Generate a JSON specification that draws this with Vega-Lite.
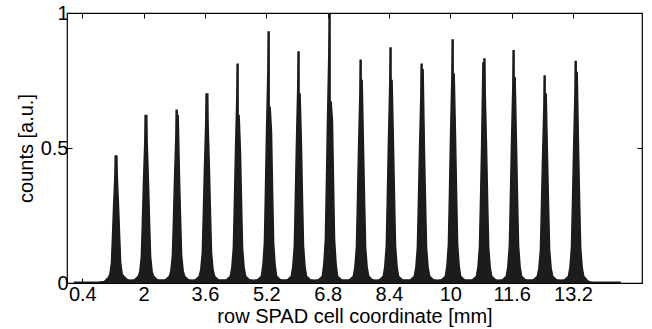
{
  "$schema": "https://vega.github.io/schema/vega-lite/v6.json",
  "autosize": {"type": "none"},
  "padding": {"left": 67, "top": 13, "right": 10, "bottom": 46},
  "width": 575,
  "height": 270,
  "config": {
    "view": {"stroke": "#000", "strokeWidth": 1.2},
    "font": "Liberation Sans",
    "axis": {"grid": false, "domain": false, "tickColor": "#000", "labelColor": "#000", "titleColor": "#000", "labelFont": "Liberation Sans", "titleFont": "Liberation Sans", "titleFontWeight": "normal", "labelFontSize": 20, "titleFontSize": 20, "tickSize": -5, "tickWidth": 1}
  },
  "data": {"values": [
    {"x":0.2,"y":0.003},{"x":0.8,"y":0.003},{"x":0.98,"y":0.006},{"x":1.08,"y":0.02},{"x":1.12,"y":0.033},{"x":1.16,"y":0.075},{"x":1.185,"y":0.165},{"x":1.215,"y":0.282},{"x":1.25,"y":0.40},{"x":1.258,"y":0.47},{"x":1.302,"y":0.47},{"x":1.31,"y":0.40},{"x":1.345,"y":0.282},{"x":1.375,"y":0.165},{"x":1.40,"y":0.075},{"x":1.44,"y":0.033},{"x":1.48,"y":0.025},{"x":1.58,"y":0.012},{"x":1.68,"y":0.010},
    {"x":1.76,"y":0.012},{"x":1.86,"y":0.025},{"x":1.90,"y":0.043},{"x":1.94,"y":0.099},{"x":1.965,"y":0.217},{"x":1.995,"y":0.372},{"x":2.03,"y":0.527},{"x":2.038,"y":0.62},{"x":2.082,"y":0.62},{"x":2.09,"y":0.527},{"x":2.125,"y":0.372},{"x":2.155,"y":0.217},{"x":2.18,"y":0.099},{"x":2.22,"y":0.043},{"x":2.26,"y":0.025},{"x":2.36,"y":0.012},{"x":2.46,"y":0.011},
    {"x":2.57,"y":0.012},{"x":2.67,"y":0.025},{"x":2.71,"y":0.045},{"x":2.75,"y":0.102},{"x":2.775,"y":0.224},{"x":2.805,"y":0.384},{"x":2.84,"y":0.544},{"x":2.848,"y":0.64},{"x":2.873,"y":0.64},{"x":2.874,"y":0.62},{"x":2.90,"y":0.62},{"x":2.935,"y":0.384},{"x":2.965,"y":0.224},{"x":2.99,"y":0.102},{"x":3.03,"y":0.045},{"x":3.07,"y":0.025},{"x":3.17,"y":0.012},{"x":3.26,"y":0.010},
    {"x":3.35,"y":0.012},{"x":3.45,"y":0.025},{"x":3.49,"y":0.049},{"x":3.53,"y":0.112},{"x":3.555,"y":0.245},{"x":3.585,"y":0.42},{"x":3.62,"y":0.595},{"x":3.628,"y":0.70},{"x":3.672,"y":0.70},{"x":3.68,"y":0.595},{"x":3.715,"y":0.42},{"x":3.745,"y":0.245},{"x":3.77,"y":0.112},{"x":3.81,"y":0.049},{"x":3.85,"y":0.025},{"x":3.95,"y":0.012},{"x":4.05,"y":0.011},
    {"x":4.16,"y":0.012},{"x":4.26,"y":0.025},{"x":4.30,"y":0.057},{"x":4.34,"y":0.13},{"x":4.365,"y":0.284},{"x":4.395,"y":0.486},{"x":4.43,"y":0.689},{"x":4.438,"y":0.81},{"x":4.463,"y":0.81},{"x":4.464,"y":0.62},{"x":4.49,"y":0.62},{"x":4.525,"y":0.486},{"x":4.555,"y":0.284},{"x":4.58,"y":0.13},{"x":4.62,"y":0.057},{"x":4.66,"y":0.025},{"x":4.76,"y":0.012},{"x":4.86,"y":0.010},
    {"x":4.97,"y":0.012},{"x":5.07,"y":0.025},{"x":5.11,"y":0.065},{"x":5.15,"y":0.149},{"x":5.175,"y":0.326},{"x":5.205,"y":0.558},{"x":5.24,"y":0.79},{"x":5.248,"y":0.93},{"x":5.273,"y":0.93},{"x":5.274,"y":0.65},{"x":5.30,"y":0.65},{"x":5.335,"y":0.558},{"x":5.365,"y":0.326},{"x":5.39,"y":0.149},{"x":5.43,"y":0.065},{"x":5.47,"y":0.025},{"x":5.57,"y":0.012},{"x":5.66,"y":0.011},
    {"x":5.75,"y":0.012},{"x":5.85,"y":0.025},{"x":5.89,"y":0.06},{"x":5.93,"y":0.137},{"x":5.955,"y":0.30},{"x":5.985,"y":0.514},{"x":6.02,"y":0.728},{"x":6.028,"y":0.856},{"x":6.053,"y":0.856},{"x":6.054,"y":0.70},{"x":6.08,"y":0.70},{"x":6.115,"y":0.514},{"x":6.145,"y":0.30},{"x":6.17,"y":0.137},{"x":6.21,"y":0.06},{"x":6.25,"y":0.025},{"x":6.35,"y":0.012},{"x":6.45,"y":0.010},
    {"x":6.56,"y":0.012},{"x":6.66,"y":0.025},{"x":6.70,"y":0.07},{"x":6.74,"y":0.16},{"x":6.765,"y":0.35},{"x":6.795,"y":0.60},{"x":6.83,"y":0.85},{"x":6.838,"y":1.0},{"x":6.863,"y":1.0},{"x":6.864,"y":0.67},{"x":6.89,"y":0.67},{"x":6.925,"y":0.60},{"x":6.955,"y":0.35},{"x":6.98,"y":0.16},{"x":7.02,"y":0.07},{"x":7.06,"y":0.025},{"x":7.16,"y":0.012},{"x":7.26,"y":0.011},
    {"x":7.37,"y":0.012},{"x":7.47,"y":0.025},{"x":7.51,"y":0.058},{"x":7.55,"y":0.132},{"x":7.575,"y":0.289},{"x":7.605,"y":0.495},{"x":7.64,"y":0.701},{"x":7.648,"y":0.825},{"x":7.673,"y":0.825},{"x":7.674,"y":0.75},{"x":7.70,"y":0.75},{"x":7.735,"y":0.495},{"x":7.765,"y":0.289},{"x":7.79,"y":0.132},{"x":7.83,"y":0.058},{"x":7.87,"y":0.025},{"x":7.97,"y":0.012},{"x":8.06,"y":0.010},
    {"x":8.15,"y":0.012},{"x":8.25,"y":0.025},{"x":8.29,"y":0.061},{"x":8.33,"y":0.139},{"x":8.355,"y":0.305},{"x":8.385,"y":0.522},{"x":8.42,"y":0.74},{"x":8.428,"y":0.87},{"x":8.453,"y":0.87},{"x":8.454,"y":0.75},{"x":8.48,"y":0.75},{"x":8.515,"y":0.522},{"x":8.545,"y":0.305},{"x":8.57,"y":0.139},{"x":8.61,"y":0.061},{"x":8.65,"y":0.025},{"x":8.75,"y":0.012},{"x":8.85,"y":0.011},
    {"x":8.96,"y":0.012},{"x":9.06,"y":0.025},{"x":9.10,"y":0.057},{"x":9.14,"y":0.13},{"x":9.165,"y":0.284},{"x":9.195,"y":0.486},{"x":9.23,"y":0.689},{"x":9.238,"y":0.81},{"x":9.263,"y":0.81},{"x":9.264,"y":0.79},{"x":9.29,"y":0.79},{"x":9.325,"y":0.486},{"x":9.355,"y":0.284},{"x":9.38,"y":0.13},{"x":9.42,"y":0.057},{"x":9.46,"y":0.025},{"x":9.56,"y":0.012},{"x":9.66,"y":0.010},
    {"x":9.77,"y":0.012},{"x":9.87,"y":0.025},{"x":9.91,"y":0.063},{"x":9.95,"y":0.144},{"x":9.975,"y":0.315},{"x":10.005,"y":0.54},{"x":10.04,"y":0.765},{"x":10.048,"y":0.90},{"x":10.073,"y":0.90},{"x":10.074,"y":0.774},{"x":10.10,"y":0.774},{"x":10.135,"y":0.54},{"x":10.165,"y":0.315},{"x":10.19,"y":0.144},{"x":10.23,"y":0.063},{"x":10.27,"y":0.025},{"x":10.37,"y":0.012},{"x":10.47,"y":0.011},
    {"x":10.58,"y":0.012},{"x":10.68,"y":0.025},{"x":10.72,"y":0.058},{"x":10.76,"y":0.133},{"x":10.785,"y":0.29},{"x":10.815,"y":0.498},{"x":10.85,"y":0.815},{"x":10.876,"y":0.815},{"x":10.877,"y":0.83},{"x":10.902,"y":0.83},{"x":10.91,"y":0.705},{"x":10.945,"y":0.498},{"x":10.975,"y":0.29},{"x":11.00,"y":0.133},{"x":11.04,"y":0.058},{"x":11.08,"y":0.025},{"x":11.18,"y":0.012},{"x":11.27,"y":0.010},
    {"x":11.36,"y":0.012},{"x":11.46,"y":0.025},{"x":11.50,"y":0.06},{"x":11.54,"y":0.138},{"x":11.565,"y":0.301},{"x":11.595,"y":0.516},{"x":11.63,"y":0.731},{"x":11.638,"y":0.86},{"x":11.663,"y":0.86},{"x":11.664,"y":0.76},{"x":11.69,"y":0.76},{"x":11.725,"y":0.516},{"x":11.755,"y":0.301},{"x":11.78,"y":0.138},{"x":11.82,"y":0.06},{"x":11.86,"y":0.025},{"x":11.96,"y":0.012},{"x":12.07,"y":0.011},
    {"x":12.17,"y":0.012},{"x":12.27,"y":0.025},{"x":12.31,"y":0.054},{"x":12.35,"y":0.123},{"x":12.375,"y":0.268},{"x":12.405,"y":0.46},{"x":12.44,"y":0.652},{"x":12.448,"y":0.767},{"x":12.473,"y":0.767},{"x":12.474,"y":0.70},{"x":12.50,"y":0.70},{"x":12.535,"y":0.46},{"x":12.565,"y":0.268},{"x":12.59,"y":0.123},{"x":12.63,"y":0.054},{"x":12.67,"y":0.025},{"x":12.77,"y":0.012},{"x":12.88,"y":0.010},
    {"x":12.98,"y":0.012},{"x":13.08,"y":0.025},{"x":13.12,"y":0.057},{"x":13.16,"y":0.131},{"x":13.185,"y":0.287},{"x":13.215,"y":0.492},{"x":13.25,"y":0.697},{"x":13.258,"y":0.82},{"x":13.283,"y":0.82},{"x":13.284,"y":0.78},{"x":13.31,"y":0.78},{"x":13.345,"y":0.492},{"x":13.375,"y":0.287},{"x":13.40,"y":0.131},{"x":13.44,"y":0.057},{"x":13.48,"y":0.025},{"x":13.58,"y":0.008},{"x":13.68,"y":0.003},{"x":14.43,"y":0.003}
  ]},
  "layer": [
    {
      "mark": {"type": "area", "color": "#1c1c1c", "stroke": "#1c1c1c", "strokeWidth": 1.5, "clip": true},
      "encoding": {
        "x": {"field": "x", "type": "quantitative", "scale": {"domain": [0, 15], "nice": false, "zero": false},
              "axis": {"orient": "bottom", "values": [0.4, 2, 3.6, 5.2, 6.8, 8.4, 10, 11.6, 13.2], "format": ".3~g", "labelPadding": 6, "labelOverlap": false, "title": "row SPAD cell coordinate [mm]", "titlePadding": 2}},
        "y": {"field": "y", "type": "quantitative", "scale": {"domain": [0, 1], "nice": false},
              "axis": {"orient": "left", "values": [0, 0.5, 1], "format": ".2~g", "labelPadding": 4, "title": "counts [a.u.]", "titlePadding": 4}}
      }
    },
    {
      "mark": {"type": "area", "opacity": 0},
      "encoding": {
        "x": {"field": "x", "type": "quantitative", "axis": {"orient": "top", "values": [0.4, 2, 3.6, 5.2, 6.8, 8.4, 10, 11.6, 13.2], "labels": false, "title": null}},
        "y": {"field": "y", "type": "quantitative", "axis": {"orient": "right", "values": [0, 0.5, 1], "labels": false, "title": null}}
      }
    }
  ],
  "resolve": {"axis": {"x": "independent", "y": "independent"}}
}
